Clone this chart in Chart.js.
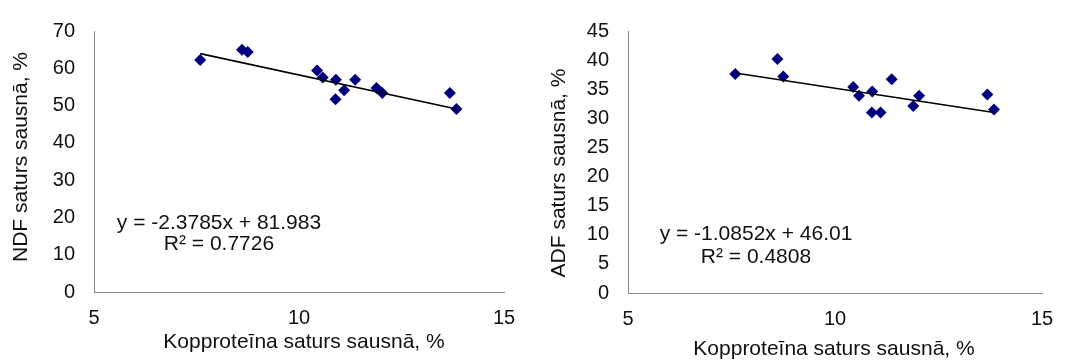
<!DOCTYPE html>
<html>
<head>
<meta charset="utf-8">
<script src="https://cdn.jsdelivr.net/npm/chart.js@4.4.1/dist/chart.umd.min.js"></script>
<style>
  html, body { margin: 0; padding: 0; background: #fff; }
  #wrap { position: relative; width: 1070px; height: 363px; overflow: hidden; }
  .panel { position: absolute; top: 0; width: 535px; height: 363px; }
</style>
</head>
<body>
<div id="wrap">
  <div class="panel" style="left:0"><canvas id="ndfChart" width="535" height="363"></canvas></div>
  <div class="panel" style="left:535px"><canvas id="adfChart" width="535" height="363"></canvas></div>
</div>
<script>
// Crude protein content of dry matter, % (shared x for both panels)
const proteinPct = [7.59, 8.61, 8.75, 10.44, 10.58, 10.90, 10.89, 11.10, 11.37, 11.89, 12.03, 13.68, 13.84];
// NDF and ADF content of dry matter, %
const ndfPct = [62.2, 65.0, 64.4, 59.4, 57.5, 56.9, 51.7, 54.1, 56.9, 54.7, 53.4, 53.4, 49.1];
const adfPct = [37.6, 40.2, 37.2, 35.4, 33.9, 34.6, 31.0, 31.0, 36.7, 32.1, 33.9, 34.1, 31.5];

// Linear trendlines: [slope, intercept, R²]
const ndfFit = [-2.3785, 81.983, 0.7726];
const adfFit = [-1.0852, 46.01, 0.4808];

// Axis ticks
const xTickValues = [5, 10, 15];
const ndfTickValues = [0, 10, 20, 30, 40, 50, 60, 70];
const adfTickValues = [0, 5, 10, 15, 20, 25, 30, 35, 40, 45];

// Titles
const xTitle = 'Kopproteīna saturs sausnā, %';
const ndfTitle = 'NDF saturs sausnā, %';
const adfTitle = 'ADF saturs sausnā, %';

const FONT = "'Liberation Sans', Arial, sans-serif";
const TEXT = '#111111';

// Draws axis titles and the trendline equation as canvas text
const panelText = {
  id: 'panelText',
  afterDraw(chart, args, o) {
    const ctx = chart.ctx;
    ctx.save();
    ctx.fillStyle = TEXT;
    ctx.font = '21px ' + FONT;
    ctx.textAlign = 'center';
    ctx.textBaseline = 'alphabetic';
    // x title
    ctx.fillText(o.xTitle, o.xTitlePos[0], o.xTitlePos[1]);
    // y title (rotated)
    ctx.save();
    ctx.translate(o.yTitlePos[0], o.yTitlePos[1]);
    ctx.rotate(-Math.PI / 2);
    ctx.fillText(o.yTitle, 0, 0);
    ctx.restore();
    // equation + R²
    const [m, b, r2] = o.fit;
    const sign = b < 0 ? ' - ' : ' + ';
    ctx.fillText('y = ' + m + 'x' + sign + Math.abs(b), o.eqPos[0], o.eqPos[1]);
    ctx.fillText('R² = ' + r2, o.eqPos[0], o.eqPos[2]);
    ctx.restore();
  }
};

function makeChart(id, yVals, fit, yTicks, yTitle, g) {
  const pts = proteinPct.map((x, i) => ({ x: x, y: yVals[i] }));
  const xMin = Math.min(...proteinPct), xMax = Math.max(...proteinPct);
  const trend = [xMin, xMax].map(x => ({ x: x, y: fit[0] * x + fit[1] }));
  const tickFont = { family: FONT, size: 20 };

  return new Chart(document.getElementById(id), {
    type: 'scatter',
    data: {
      datasets: [
        {
          type: 'line',
          data: trend,
          borderColor: '#000000',
          borderWidth: 1.6,
          pointRadius: 0,
          fill: false,
          tension: 0
        },
        {
          data: pts,
          pointStyle: 'rectRot',
          pointRadius: 6,
          backgroundColor: '#00007f',
          borderColor: '#00007f',
          borderWidth: 0
        }
      ]
    },
    options: {
      responsive: false,
      animation: false,
      devicePixelRatio: 1,
      events: [],
      layout: { padding: { left: 0, right: g.right, top: g.top, bottom: 0 } },
      plugins: {
        legend: { display: false },
        tooltip: { enabled: false },
        panelText: {
          xTitle: xTitle, xTitlePos: g.xTitlePos,
          yTitle: yTitle, yTitlePos: g.yTitlePos,
          fit: fit, eqPos: g.eqPos
        }
      },
      scales: {
        x: {
          type: 'linear',
          position: 'bottom',
          min: xTickValues[0],
          max: xTickValues[xTickValues.length - 1],
          afterBuildTicks: s => { s.ticks = xTickValues.map(v => ({ value: v })); },
          afterFit: s => { s.height = 363 - g.bottom; },
          ticks: { padding: 14, color: TEXT, font: tickFont, maxRotation: 0 },
          grid: { display: false, drawTicks: false },
          border: { display: true, color: '#8a8a8a', width: 1 }
        },
        y: {
          type: 'linear',
          min: yTicks[0],
          max: yTicks[yTicks.length - 1],
          afterBuildTicks: s => { s.ticks = yTicks.map(v => ({ value: v })); },
          afterFit: s => { s.width = g.left; },
          ticks: { padding: 19, color: TEXT, font: tickFont },
          grid: { display: false, drawTicks: false },
          border: { display: true, color: '#8a8a8a', width: 1 }
        }
      }
    },
    plugins: [panelText]
  });
}

makeChart('ndfChart', ndfPct, ndfFit, ndfTickValues, ndfTitle, {
  left: 94, right: 31, top: 22, bottom: 292,
  xTitlePos: [304, 348], yTitlePos: [27, 157], eqPos: [219, 229, 250]
});
makeChart('adfChart', adfPct, adfFit, adfTickValues, adfTitle, {
  left: 93, right: 28, top: 23, bottom: 293,
  xTitlePos: [299, 355], yTitlePos: [30, 173], eqPos: [221, 240, 263]
});
</script>
</body>
</html>
